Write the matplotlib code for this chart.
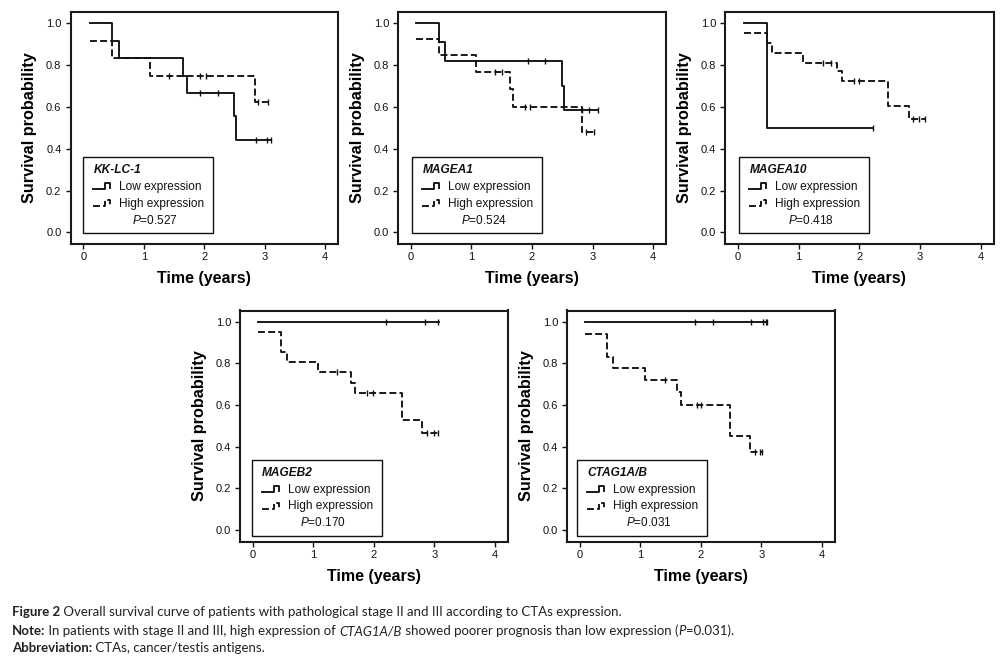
import numpy as np
import matplotlib
matplotlib.use("Agg")
import matplotlib.pyplot as plt
from matplotlib.lines import Line2D
from matplotlib.patches import Rectangle

plt.rcParams['font.family'] = ['Liberation Sans', 'DejaVu Sans']
plt.rcParams['mathtext.fontset'] = 'custom'
plt.rcParams['mathtext.it'] = 'Liberation Sans:italic'
plt.rcParams['mathtext.rm'] = 'Liberation Sans'

W, H = 1005, 660

# ---------------- data ----------------
genes = ['KK-LC-1', 'MAGEA1', 'MAGEA10', 'MAGEB2', 'CTAG1A/B']
p_values = ['0.527', '0.524', '0.418', '0.170', '0.031']
series_labels = ['Low expression', 'High expression']
x_ticks = [0, 1, 2, 3, 4]
y_ticks = [0.0, 0.2, 0.4, 0.6, 0.8, 1.0]

# KK-LC-1
kk_low_t = [0.11, 0.48, 0.59, 1.65, 1.71, 2.49, 2.52, 3.10]
kk_low_s = [1.000, 0.917, 0.833, 0.750, 0.667, 0.556, 0.444, 0.444]
kk_low_c = [1.93, 2.23, 2.85, 3.03, 3.10]
kk_high_t = [0.11, 0.48, 1.10, 2.84, 3.05]
kk_high_s = [0.917, 0.833, 0.750, 0.625, 0.625]
kk_high_c = [1.42, 1.93, 2.03, 2.89, 3.05]

# MAGEA1
a1_low_t = [0.09, 0.47, 0.57, 2.49, 2.52, 3.09]
a1_low_s = [1.000, 0.909, 0.818, 0.700, 0.583, 0.583]
a1_low_c = [1.93, 2.22, 2.82, 2.94, 3.09]
a1_high_t = [0.09, 0.47, 1.08, 1.63, 1.69, 2.82, 3.03]
a1_high_s = [0.923, 0.846, 0.769, 0.684, 0.600, 0.478, 0.478]
a1_high_c = [1.39, 1.51, 1.88, 1.97, 2.89, 3.03]

# MAGEA10
a10_low_t = [0.11, 0.48, 2.22]
a10_low_s = [1.000, 0.500, 0.500]
a10_low_c = [2.22]
a10_high_t = [0.11, 0.48, 0.57, 1.08, 1.63, 1.71, 2.47, 2.82, 3.08]
a10_high_s = [0.952, 0.905, 0.857, 0.810, 0.770, 0.722, 0.604, 0.543, 0.543]
a10_high_c = [1.41, 1.54, 1.92, 2.00, 2.88, 2.99, 3.08]

# MAGEB2
b2_low_t = [0.09, 3.08]
b2_low_s = [1.000, 1.000]
b2_low_c = [2.21, 2.84, 3.06]
b2_high_t = [0.09, 0.46, 0.56, 1.08, 1.62, 1.69, 2.47, 2.80, 3.06]
b2_high_s = [0.950, 0.856, 0.808, 0.760, 0.704, 0.656, 0.528, 0.464, 0.464]
b2_high_c = [1.40, 1.89, 1.98, 2.88, 2.99, 3.06]

# CTAG1A/B
ct_low_t = [0.08, 3.10]
ct_low_s = [1.000, 1.000]
ct_low_c = [1.91, 2.21, 2.83, 3.03, 3.07, 3.10]
ct_high_t = [0.08, 0.45, 0.55, 1.08, 1.61, 1.68, 2.49, 2.81, 3.02]
ct_high_s = [0.941, 0.832, 0.779, 0.720, 0.661, 0.600, 0.451, 0.376, 0.376]
ct_high_c = [1.41, 1.93, 2.01, 2.89, 2.98, 3.02]

panels = [
    ((kk_low_t, kk_low_s, kk_low_c), (kk_high_t, kk_high_s, kk_high_c)),
    ((a1_low_t, a1_low_s, a1_low_c), (a1_high_t, a1_high_s, a1_high_c)),
    ((a10_low_t, a10_low_s, a10_low_c), (a10_high_t, a10_high_s, a10_high_c)),
    ((b2_low_t, b2_low_s, b2_low_c), (b2_high_t, b2_high_s, b2_high_c)),
    ((ct_low_t, ct_low_s, ct_low_c), (ct_high_t, ct_high_s, ct_high_c)),
]

# ---------------- layout (pixels) ----------------
rects = [(70.5, 12, 338, 243.8), (398, 12, 666, 243.8), (725, 12, 993.5, 243.8),
         (240, 310.5, 507.5, 541.5), (567, 310.5, 834.5, 541.5)]
leg_off = [(12.5, 10.5), (14, 10.5), (14, 10.5), (11.7, 5.5), (10, 5.5)]
leg_w, leg_h = 130, 76

LW = 1.35
DASH = (0, (3.7, 1.7))
INK = '#111111'

fig = plt.figure(figsize=(W / 100, H / 100), dpi=100)
fig.patch.set_facecolor('white')


def fx(x):
    return x / W


def fy(y):
    return 1 - y / H


for i, (rect, curves) in enumerate(zip(rects, panels)):
    l, t, r, b = rect
    wpx, hpx = r - l, b - t
    ax = fig.add_axes([fx(l), fy(b), wpx / W, hpx / H])
    for (tt, ss, cc), ls in zip(curves, ['-', DASH]):
        tt = np.asarray(tt)
        ss = np.asarray(ss)
        ax.plot(tt, ss, drawstyle='steps-post', color=INK, lw=LW, linestyle=ls)
        idx = np.searchsorted(tt, np.asarray(cc), side='right') - 1
        ax.plot(cc, ss[idx], linestyle='none', marker='|', ms=4.5, mew=1.0, color=INK)
    ax.set_xlim(-0.21, 4.21)
    ax.set_ylim(-0.055, 1.054)
    ax.set_xticks(x_ticks)
    ax.set_yticks(y_ticks)
    ax.set_yticklabels([f'{v:.1f}' for v in y_ticks])
    ax.tick_params(axis='both', direction='out', length=3.5, width=1.0, labelsize=8,
                   color=INK, labelcolor=INK)
    ax.tick_params(axis='y', pad=3)
    ax.tick_params(axis='x', pad=2.5)
    for sp in ax.spines.values():
        sp.set_linewidth(1.5)
        sp.set_color('#1a1a1a')
    ax.set_ylabel('Survival probability', fontsize=11.7, fontweight='bold', va='center')
    ax.yaxis.set_label_coords(-40.5 / wpx, 0.5)
    ax.set_xlabel('Time (years)', fontsize=11.5, fontweight='bold', va='center')
    ax.xaxis.set_label_coords(0.5, -34.5 / hpx)

    # legend box (drawn in figure pixel coordinates)
    bl = l + leg_off[i][0]
    bb = b - leg_off[i][1]
    bt = bb - leg_h
    fig.add_artist(Rectangle((fx(bl), fy(bb)), leg_w / W, leg_h / H, transform=fig.transFigure,
                             fill=False, lw=1.0, ec=INK))
    fig.text(fx(bl + 10.3), fy(bt + 12.8), genes[i], fontsize=8.6, fontweight='bold',
             fontstyle='italic', va='center', ha='left', color=INK)
    for j, (lab, ls) in enumerate(zip(series_labels, ['-', DASH])):
        yc = bt + 29.5 + j * 17.0
        xs = [bl + 10.3, bl + 22, bl + 22, bl + 27, bl + 27]
        ys = [yc + 2.3, yc + 2.3, yc - 3.4, yc - 3.4, yc + 1.3]
        fig.add_artist(Line2D([fx(v) for v in xs], [fy(v) for v in ys], transform=fig.transFigure,
                              color=INK, lw=LW, linestyle=ls))
        fig.text(fx(bl + 36.3), fy(yc), lab, fontsize=8.6, va='center', ha='left', color=INK)
    fig.text(fx(bl + 48.7), fy(bt + 63), r'$P$=' + p_values[i], fontsize=8.5, va='center',
             ha='left', color=INK)

# ---------------- caption ----------------
CAP_FONT = ['Lato', 'DejaVu Sans']
CAP_COLOR = '#222222'
caption_lines = [
    [('Figure 2', 'bold', 'normal'),
     (' Overall survival curve of patients with pathological stage II and III according to CTAs expression.', 'normal', 'normal')],
    [('Note:', 'bold', 'normal'),
     (' In patients with stage II and III, high expression of ', 'normal', 'normal'),
     ('CTAG1A/B', 'normal', 'italic'),
     (' showed poorer prognosis than low expression (', 'normal', 'normal'),
     ('P', 'normal', 'italic'),
     ('=0.031).', 'normal', 'normal')],
    [('Abbreviation:', 'bold', 'normal'),
     (' CTAs, cancer/testis antigens.', 'normal', 'normal')],
]
caption_y = [612, 631, 648]

renderer = fig.canvas.get_renderer()


def place_line(pieces, y_px, size, x0=12.0):
    x = x0
    arts = []
    for txt, wt, st in pieces:
        a = fig.text(fx(x), fy(y_px), txt, fontsize=size, fontweight=wt, fontstyle=st,
                     family=CAP_FONT, color=CAP_COLOR, va='center', ha='left')
        x += a.get_window_extent(renderer=renderer).width
        arts.append(a)
    return x, arts


# fit caption size so that the note line spans to ~735 px
end, arts = place_line(caption_lines[1], caption_y[1], 10)
for a in arts:
    a.remove()
cap_size = 10 * (735 - 12) / (end - 12)
for pieces, yy in zip(caption_lines, caption_y):
    place_line(pieces, yy, cap_size)

fig.savefig('out.png', dpi=100, facecolor='white')
